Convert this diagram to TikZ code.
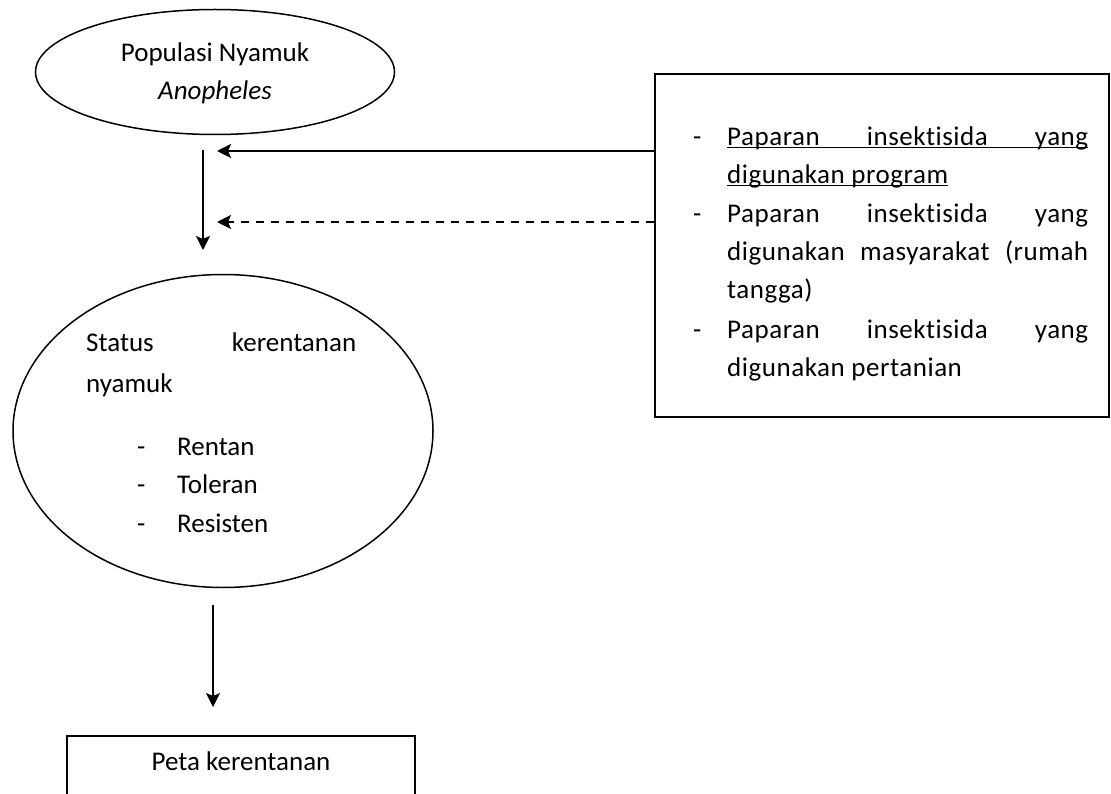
\documentclass[tikz,border=0pt]{standalone}
\usepackage{fontspec}
\setmainfont{Carlito}[Ligatures=NoCommon]
\newfontfamily\boxfont{Carlito}[Ligatures=NoCommon,LetterSpace=2]
\usetikzlibrary{arrows.meta,shapes.geometric}
\newcommand\myul[1]{\setbox0\hbox{#1}\rlap{\rule[-2.5pt]{\wd0}{1.6pt}}\box0}
\begin{document}
\begin{tikzpicture}[x=1pt,y=-1pt,
  txt/.style={anchor=base west, inner sep=0pt, font=\fontsize{27}{38}\selectfont},
  btxt/.style={anchor=base west, inner sep=0pt, font=\fontsize{27}{38}\boxfont},
  ctxt/.style={anchor=base, inner sep=0pt, font=\fontsize{27}{38}\selectfont},
  tip/.style={-{Stealth[length=14pt,width=14pt,inset=3pt]}},
  oval/.style={draw, ellipse, line width=1.5pt, inner sep=0pt},
  frame/.style={draw, rectangle, line width=2pt, inner sep=0pt},
]
\useasboundingbox (0,0) rectangle (1111,794);
\clip (0,0) rectangle (1111,794);

% top ellipse
\node[oval, minimum width=359pt, minimum height=125pt] (e1) at (215,72) {};
\node[ctxt] (t1) at (215,62) {Populasi Nyamuk};
\node[ctxt] (t2) at (215,100) {\itshape Anopheles};

% second ellipse
\node[oval, minimum width=420pt, minimum height=313pt] (e2) at (223,431) {};
\node[txt] (s1) at (86,352) {\hbox to 270pt{Status\hfill kerentanan}};
\node[txt] (s2) at (86,392) {nyamuk};
\node[txt] (d1) at (137,455) {-};
\node[txt] (r1) at (177,455) {Rentan};
\node[txt] (d2) at (137,493) {-};
\node[txt] (r2) at (177,493) {Toleran};
\node[txt] (d3) at (137,532) {-};
\node[txt] (r3) at (177,532) {Resisten};

% right box
\node[frame, minimum width=454pt, minimum height=343pt, anchor=north west] (box) at (654,73) {};
\node[btxt] (bd1) at (693,146) {-};
\node[btxt] (b1) at (727,146) {\myul{\hbox to 361pt{Paparan\hfill insektisida\hfill yang}}};
\node[btxt] (b2) at (727,184) {\myul{digunakan program}};
\node[btxt] (bd2) at (693,223) {-};
\node[btxt] (b3) at (727,223) {\hbox to 361pt{Paparan\hfill insektisida\hfill yang}};
\node[btxt] (b4) at (727,261) {\hbox to 361pt{digunakan\hfill masyarakat\hfill (rumah}};
\node[btxt] (b5) at (727,299) {tangga)};
\node[btxt] (bd3) at (693,338) {-};
\node[btxt] (b6) at (727,338) {\hbox to 361pt{Paparan\hfill insektisida\hfill yang}};
\node[btxt] (b7) at (727,376) {digunakan pertanian};

% bottom box
\node[frame, line width=1.8pt, anchor=north, minimum width=348pt, text height=20pt, text depth=40pt, inner ysep=15pt, font=\fontsize{27}{38}\selectfont] (peta) at (241,735) {Peta kerentanan};

% connectors
\coordinate (a1) at (203,150);
\coordinate (a2) at (203,250);
\draw[tip, line width=2pt] (a1) -- (a2);
\coordinate (h1) at (217,151);
\draw[tip, line width=2.5pt] (box.west |- h1) -- (h1);
\coordinate (h2) at (217,222);
\draw[tip, line width=2pt, dash pattern=on 8pt off 7pt] (box.west |- h2) -- (h2);
\coordinate (c1) at (213,605);
\coordinate (c2) at (213,707);
\draw[tip, line width=1.2pt] (c1) -- (c2);
\end{tikzpicture}
\end{document}
